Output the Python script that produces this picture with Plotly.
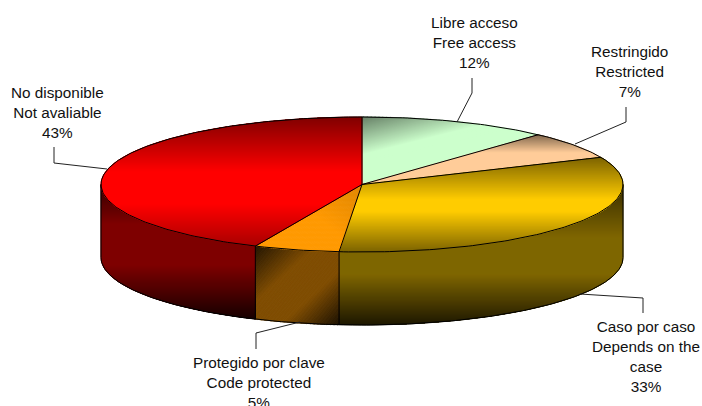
import plotly.graph_objects as go
import numpy as np

# Data
labels_es = ["Libre acceso", "Restringido", "Caso por caso", "Protegido por clave", "No disponible"]
labels_en = ["Free access", "Restricted", "Depends on the<br>case", "Code protected", "Not avaliable"]
values = [11.8, 6.6, 33.0, 5.3, 43.3]
colors = [(204, 255, 204), (255, 204, 153), (255, 204, 0), (255, 153, 0), (255, 0, 0)]

# label centres and leader lines, in page pixels
label_x = [474, 629, 646, 259, 57]
label_y = [42.5, 71, 356.5, 382, 112]
leaders = [
    [(457, 122), (472, 93), (472, 78)],
    [(575, 144), (626, 122), (626, 107)],
    [(580, 294), (643, 298), (643, 313)],
    [(300, 322), (256, 333), (256, 349)],
    [(107, 169), (54, 163), (54, 147)],
]

# pie geometry
cx, cy = 362, 184.5
rx, ry = 261, 67.5
depth = 73

# shading: gradient direction (a, b), then positions along it and brightness there
top_dir = [(0.25, 1), (0, 1), (0, 1), (0.5, -0.6), (0, 1)]
top_pos = [[207.5, 245.5], [135, 153], [157, 200, 212, 253], [-10, 30, 70], [117, 172, 205, 247]]
top_val = [[0.5, 1.0], [0.5, 1.0], [0.48, 1.0, 1.0, 0.48], [1.0, 1.0, 0.88], [0.5, 1.0, 1.0, 0.66]]
side_dir = {2: (0, 1), 3: (0.714, 0.779), 4: (0, 1)}
side_pos = {2: [185, 238, 275, 325], 3: [376, 418, 454, 496], 4: [185, 225, 265, 318]}
side_val = {2: [0.22, 0.5, 0.5, 0.12], 3: [0.15, 0.5, 0.5, 0.1], 4: [0.2, 0.5, 0.5, 0.1]}

angles = np.concatenate([[0], np.cumsum(values)]) * 3.6


def rim(deg):
    t = np.radians(deg)
    return cx + rx * np.sin(t), cy - ry * np.cos(t)


def clip(poly, a, b, limit, keep_above):
    # one half-plane of a polygon, the points on the side a*x + b*y >= limit (or <=)
    out = []
    sign = 1 if keep_above else -1
    for p, q in zip(poly, poly[1:] + poly[:1]):
        dp = sign * (a * p[0] + b * p[1] - limit)
        dq = sign * (a * q[0] + b * q[1] - limit)
        if dp >= 0:
            out.append(p)
        if dp * dq < 0:
            s = dp / (dp - dq)
            out.append((p[0] + s * (q[0] - p[0]), p[1] + s * (q[1] - p[1])))
    return out


fig = go.Figure()


def add_gradient(poly, direction, pos, val, rgb):
    # draw the polygon as 1px bands along the gradient direction
    a, b = direction
    us = [a * p[0] + b * p[1] for p in poly]
    for u in np.arange(np.floor(min(us)), max(us) + 1, 1.0):
        band = clip(clip(poly, a, b, u, True), a, b, u + 1, False)
        if len(band) < 3:
            continue
        shade = np.interp(u + 0.5, pos, val)
        col = "rgb(%d,%d,%d)" % tuple(int(c * shade) for c in rgb)
        xs = [p[0] for p in band] + [band[0][0]]
        ys = [p[1] for p in band] + [band[0][1]]
        # the stroke overlaps the next band, otherwise white shows through the seams
        fig.add_trace(go.Scatter(x=xs, y=ys, mode="lines", fill="toself", fillcolor=col,
                                 line=dict(color=col, width=1, simplify=False),
                                 hoverinfo="skip", showlegend=False))


# side walls, only the front half is visible
for i in range(len(values)):
    a0, a1 = max(angles[i], 90), min(angles[i + 1], 270)
    if a1 <= a0:
        continue
    th = np.linspace(a0, a1, int(a1 - a0) + 2)
    upper = [rim(t) for t in th]
    lower = [(x, y + depth) for x, y in upper][::-1]
    add_gradient(upper + lower, side_dir[i], side_pos[i], side_val[i], colors[i])

# top face
for i in range(len(values)):
    th = np.linspace(angles[i], angles[i + 1], int(angles[i + 1] - angles[i]) + 2)
    poly = [(cx, cy)] + [rim(t) for t in th]
    add_gradient(poly, top_dir[i], top_pos[i], top_val[i], colors[i])

# outlines
ox, oy = [], []
for t in np.linspace(0, 360, 361):
    x, y = rim(t)
    ox.append(x)
    oy.append(y)
ox.append(None)
oy.append(None)
for t in np.linspace(90, 270, 181):
    x, y = rim(t)
    ox.append(x)
    oy.append(y + depth)
ox.append(None)
oy.append(None)
for a in list(angles[:-1]):
    x, y = rim(a)
    ox += [cx, x, None]
    oy += [cy, y, None]
for a in [90, 270] + [a for a in angles[:-1] if 90 < a < 270]:
    x, y = rim(a)
    ox += [x, x, None]
    oy += [y, y + depth, None]
fig.add_trace(go.Scatter(x=ox, y=oy, mode="lines", line=dict(color="black", width=1),
                         hoverinfo="skip", showlegend=False))

# leader lines
for pts in leaders:
    fig.add_trace(go.Scatter(x=[p[0] for p in pts], y=[p[1] for p in pts], mode="lines",
                             line=dict(color="#222222", width=1),
                             hoverinfo="skip", showlegend=False))

for es, en, v, lx, ly in zip(labels_es, labels_en, values, label_x, label_y):
    fig.add_annotation(x=lx, y=ly, xref="x", yref="y", xanchor="center", yanchor="middle",
                       text=f"{es}<br>{en}<br>{round(v)}%", showarrow=False, align="center",
                       font=dict(family="Liberation Sans", size=15.3, color="#111111"))

fig.update_layout(
    width=702, height=406,
    margin=dict(l=0, r=0, t=0, b=0),
    paper_bgcolor="white", plot_bgcolor="white",
    xaxis=dict(range=[0, 702], visible=False, fixedrange=True),
    yaxis=dict(range=[406, 0], visible=False, fixedrange=True),
    showlegend=False,
)

# the page's default body margin would push the chart 8px off
fig.write_html("out.html", config=dict(displayModeBar=False),
               post_script="document.body.style.margin='0';document.body.style.overflow='hidden';")
